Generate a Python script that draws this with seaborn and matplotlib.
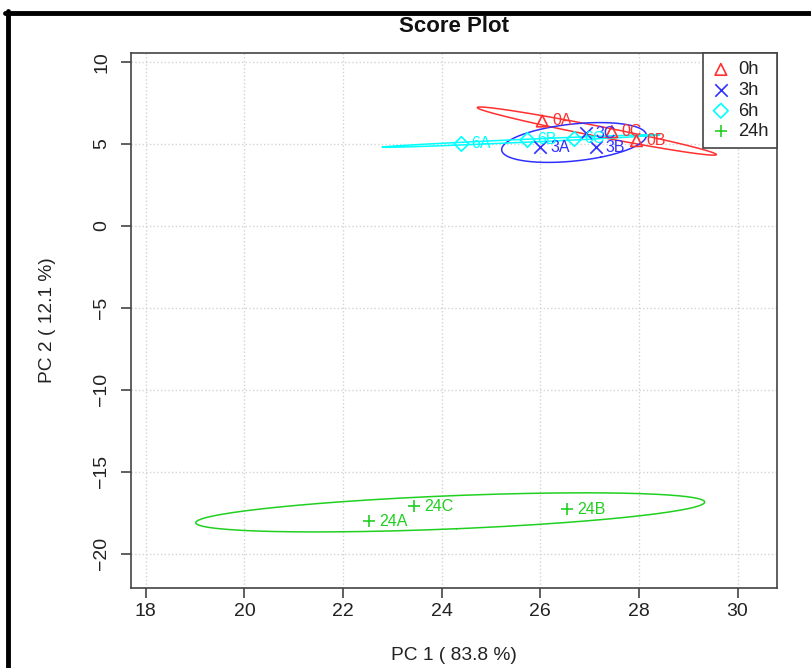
import numpy as np
import pandas as pd
import seaborn as sns
import matplotlib.pyplot as plt
from matplotlib.lines import Line2D

# PCA scores
sample_names = ['0A', '0B', '0C', '3A', '3B', '3C', '6A', '6B', '6C', '24A', '24B', '24C']
sample_group = ['0h', '0h', '0h', '3h', '3h', '3h', '6h', '6h', '6h', '24h', '24h', '24h']
pc1 = [26.04, 27.95, 27.45, 26.00, 27.12, 26.93, 24.40, 25.74, 26.69, 22.53, 26.55, 23.44]
pc2 = [6.40, 5.20, 5.75, 4.80, 4.80, 5.66, 5.00, 5.24, 5.30, -18.04, -17.30, -17.12]

groups = ['0h', '3h', '6h', '24h']
group_colors = ['#ff3030', '#3030ff', '#00ffff', '#20d020']
group_markers = ['^', 'x', 'D', '+']

x_ticks = [18, 20, 22, 24, 26, 28, 30]
y_ticks = [-20, -15, -10, -5, 0, 5, 10]

df = pd.DataFrame({'sample': sample_names, 'group': sample_group, 'pc1': pc1, 'pc2': pc2})


def conf_ellipse(x, y, chi2=5.991, n=200):
    # 95% confidence ellipse from the sample covariance
    cov = np.cov(x, y)
    vals, vecs = np.linalg.eigh(cov)
    vals = np.clip(vals, 0, None)
    t = np.linspace(0, 2 * np.pi, n)
    circle = np.vstack([np.cos(t), np.sin(t)])
    pts = vecs @ (np.sqrt(vals * chi2)[:, None] * circle)
    return pts[0] + np.mean(x), pts[1] + np.mean(y)


sns.set_style('white')
plt.rcParams['font.family'] = ['Liberation Sans', 'DejaVu Sans']

fig = plt.figure(figsize=(8.11, 6.68), dpi=100)
ax = fig.add_axes([0.1615, 0.1198, 0.7966, 0.8009])

for g, c, m in zip(groups, group_colors, group_markers):
    sub = df[df.group == g]
    ex, ey = conf_ellipse(sub.pc1.values, sub.pc2.values)
    ax.plot(ex, ey, color=c, lw=1.1, zorder=2)
    if m in ('x', '+'):
        sns.scatterplot(data=sub, x='pc1', y='pc2', marker=m, color=c, s=80,
                        linewidth=1.2, label=g, ax=ax, zorder=3)
    else:
        sns.scatterplot(data=sub, x='pc1', y='pc2', marker=m, color=c,
                        facecolor='none', edgecolor=c, s=55 if m == 'D' else 70,
                        linewidth=1.2, label=g, ax=ax, zorder=3)
    for _, r in sub.iterrows():
        ax.annotate(r['sample'], (r.pc1, r.pc2), xytext=(7, 0), textcoords='offset points',
                    va='center', ha='left', color=c, fontsize=11.5)

ax.set_xlim(17.7, 30.8)
ax.set_ylim(-22.1, 10.55)
ax.set_xticks(x_ticks)
ax.set_yticks(y_ticks)
ax.set_xlabel('')
ax.set_ylabel('')
ax.grid(True, color='lightgray', linestyle=':', linewidth=1)
for sp in ax.spines.values():
    sp.set_color('#444444')
    sp.set_linewidth(1.2)
ax.tick_params(direction='out', length=7, width=1.2, color='#444444', labelsize=14,
               labelcolor='#222222')
ax.tick_params(axis='x', bottom=True, pad=4)
ax.tick_params(axis='y', left=True, pad=8, labelrotation=90)
for lab in ax.get_yticklabels():
    lab.set_va('center')

leg = ax.legend(loc='upper right', borderaxespad=0, fancybox=False, edgecolor='#444444',
                framealpha=1, fontsize=13.2, handletextpad=0.4, borderpad=0.45,
                labelspacing=0.2, handlelength=1.1)
leg.get_frame().set_linewidth(1.2)
for t in leg.get_texts():
    t.set_color('#222222')

fig.text(0.5598, 1 - 26 / 668, 'Score Plot', ha='center', va='center',
         fontweight='bold', fontsize=16, color='#111111')
fig.text(0.5598, 1 - 655 / 668, 'PC 1 ( 83.8 %)', ha='center', va='center',
         fontsize=13.8, color='#222222')
fig.text(48 / 811, 1 - 320 / 668, 'PC 2 ( 12.1 %)', ha='center', va='center',
         rotation=90, fontsize=13.8, color='#222222')

# black border of the screenshot
fig.add_artist(Line2D([5 / 811, 1], [1 - 13 / 668, 1 - 13 / 668], color='black', lw=3.5,
                      transform=fig.transFigure))
fig.add_artist(Line2D([8 / 811, 8 / 811], [0, 1 - 11 / 668], color='black', lw=3.5,
                      transform=fig.transFigure))

fig.savefig('out.png', dpi=100)
